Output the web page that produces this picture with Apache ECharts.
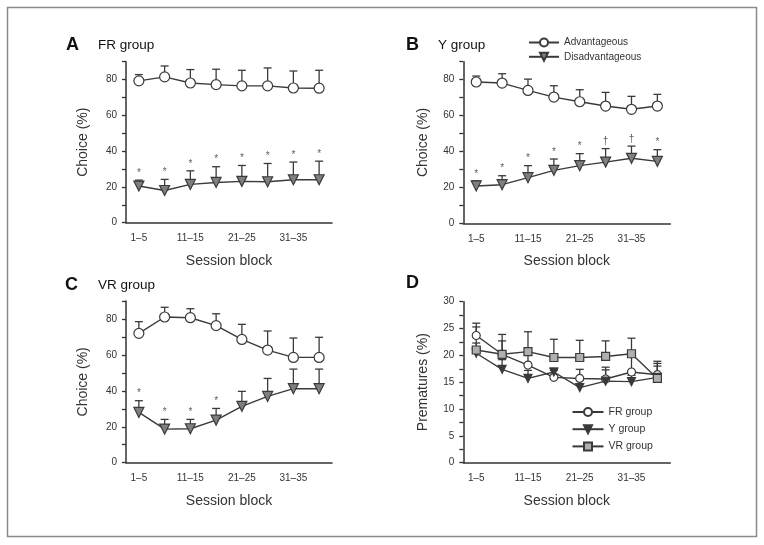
<!DOCTYPE html>
<html>
<head>
<meta charset="utf-8">
<script src="https://cdn.jsdelivr.net/npm/echarts@6/dist/echarts.min.js"></script>
<style>
  html, body { margin: 0; padding: 0; background: #fff; }
  #chart { width: 764px; height: 545px; }
</style>
</head>
<body>
<div id="chart"></div>
<script>
const blocks = ['1–5', '6–10', '11–15', '16–20', '21–25', '26–30', '31–35', '36–40']

// A: FR group (mean and top of the SEM bar)
const frAdv = [79.3, 81.5, 78.1, 77.2, 76.5, 76.5, 75.3, 75.2]
const frAdvTop = [82.8, 87.6, 85.6, 85.8, 85.2, 86.5, 84.8, 85.2]
const frDis = [20.5, 18.0, 21.4, 22.5, 23.1, 22.9, 24.0, 24.0]
const frDisTop = [23.8, 24.2, 29.0, 31.3, 32.0, 33.1, 33.9, 34.4]
const frMarks = ['*', '*', '*', '*', '*', '*', '*', '*']

// B: Y group
const yAdv = [78.7, 78.1, 74.0, 70.3, 67.7, 65.3, 63.5, 65.3]
const yAdvTop = [82.0, 83.3, 80.3, 76.6, 74.4, 72.9, 70.7, 71.8]
const yDis = [20.8, 21.5, 25.4, 29.5, 32.1, 34.1, 36.2, 34.5]
const yDisTop = [23.6, 26.5, 32.1, 35.8, 38.8, 41.6, 43.0, 41.0]
const yMarks = ['*', '*', '*', '*', '*', '†', '†', '*']

// C: VR group
const vrAdv = [72.0, 81.1, 80.7, 76.3, 68.6, 62.7, 58.6, 58.6]
const vrAdvTop = [78.5, 86.5, 85.7, 82.9, 77.0, 73.3, 69.4, 69.8]
const vrDis = [28.0, 18.7, 18.9, 23.7, 31.4, 36.9, 41.2, 41.2]
const vrDisTop = [34.5, 24.1, 24.1, 30.2, 39.7, 46.9, 52.1, 52.1]
const vrMarks = ['*', '*', '*', '*', '', '', '', '']

// D: premature responses
const frPrem = [23.7, 20.2, 18.2, 15.9, 15.7, 15.6, 16.9, 16.4]
const frPremTop = [26.0, 22.7, 20.3, 17.2, 17.4, 17.8, 20.2, 18.9]
const yPrem = [20.4, 17.4, 15.7, 16.9, 14.0, 15.2, 15.1, 15.9]
const yPremTop = [22.3, 19.2, 17.2, 17.6, 15.6, 17.3, 16.3, 18.5]
const vrPrem = [21.0, 20.2, 20.7, 19.6, 19.6, 19.8, 20.3, 15.7]
const vrPremTop = [25.3, 23.9, 24.4, 23.0, 22.8, 22.7, 23.2, 18.0]

const FONT = '"Liberation Sans", Arial, Helvetica, sans-serif'
const INK = '#333'
const LINE = '#3a3a3a'

const grids = [
  { left: 126, top: 61.7, width: 206, height: 161 },
  { left: 463.3, top: 61.7, width: 207, height: 161.6 },
  { left: 126, top: 301, width: 206, height: 161.7 },
  { left: 463.3, top: 301.7, width: 207, height: 161 }
]

function xAxisFor(i) {
  return {
    type: 'category',
    gridIndex: i,
    data: blocks,
    boundaryGap: true,
    name: 'Session block',
    nameLocation: 'middle',
    nameGap: 31,
    nameTextStyle: { fontFamily: FONT, fontSize: 14, color: INK },
    axisLine: { lineStyle: { color: INK, width: 1.5 } },
    axisTick: { alignWithLabel: true, interval: 0, length: 5, lineStyle: { color: INK, width: 1.3 } },
    axisLabel: { interval: 1, margin: 11, fontFamily: FONT, fontSize: 10, color: INK },
    splitLine: { show: false }
  }
}

function yAxisFor(i, name, max, step, labelStep, gap) {
  return {
    type: 'value',
    gridIndex: i,
    min: 0,
    max: max,
    interval: step,
    name: name,
    nameLocation: 'middle',
    nameGap: gap,
    nameTextStyle: { fontFamily: FONT, fontSize: 14, color: INK },
    axisLine: { show: true, lineStyle: { color: INK, width: 1.5 } },
    axisTick: { show: true, length: 4, lineStyle: { color: INK, width: 1.3 } },
    axisLabel: {
      margin: 9,
      fontFamily: FONT,
      fontSize: 10,
      color: INK,
      formatter: (v) => (v % labelStep === 0 ? String(v) : '')
    },
    splitLine: { show: false }
  }
}

function errorBars(i, mean, top) {
  return {
    type: 'custom',
    xAxisIndex: i,
    yAxisIndex: i,
    z: 1,
    silent: true,
    encode: { x: 0, y: [1, 2] },
    data: mean.map((m, k) => [k, m, top[k]]),
    renderItem(params, api) {
      const p0 = api.coord([api.value(0), api.value(1)])
      const p1 = api.coord([api.value(0), api.value(2)])
      const half = 4
      const style = { stroke: LINE, lineWidth: 1.3 }
      return {
        type: 'group',
        children: [
          { type: 'line', shape: { x1: p0[0], y1: p0[1], x2: p1[0], y2: p1[1] }, style },
          { type: 'line', shape: { x1: p1[0] - half, y1: p1[1], x2: p1[0] + half, y2: p1[1] }, style }
        ]
      }
    }
  }
}

function marks(i, top, signs) {
  return {
    type: 'scatter',
    xAxisIndex: i,
    yAxisIndex: i,
    symbolSize: 0,
    silent: true,
    z: 3,
    data: signs.map((s, k) => [k, top[k], s]).filter((d) => d[2] !== ''),
    label: {
      show: true,
      position: 'top',
      distance: 2,
      fontFamily: FONT,
      fontSize: 10,
      color: INK,
      formatter: (p) => p.value[2]
    }
  }
}

function lineSeries(i, name, data, symbol, fill, size) {
  return {
    type: 'line',
    name: name,
    xAxisIndex: i,
    yAxisIndex: i,
    z: 2,
    data: data,
    symbol: symbol,
    symbolSize: size,
    symbolRotate: symbol === 'triangle' ? 180 : 0,
    showAllSymbol: true,
    lineStyle: { color: LINE, width: 1.4 },
    itemStyle: { color: fill, borderColor: LINE, borderWidth: 1.2 }
  }
}

function choicePanel(i, adv, advTop, dis, disTop, signs) {
  return [
    errorBars(i, adv, advTop),
    errorBars(i, dis, disTop),
    lineSeries(i, 'Advantageous', adv, 'circle', '#fff', 10),
    lineSeries(i, 'Disadvantageous', dis, 'triangle', '#7f7f7f', 10),
    marks(i, disTop, signs)
  ]
}

function label(text, x, y, size, bold) {
  return {
    type: 'text',
    x: x,
    y: y,
    style: {
      text: text,
      fill: '#111',
      font: (bold ? 'bold ' : '') + size + 'px ' + FONT,
      verticalAlign: 'middle'
    }
  }
}

const option = {
  animation: false,
  backgroundColor: '#fff',
  graphic: [
    { type: 'rect', shape: { x: 7.5, y: 7.5, width: 749, height: 529 }, style: { fill: 'none', stroke: '#8a8a8a', lineWidth: 1.5 } },
    label('A', 66, 45, 18, true),
    label('FR group', 98, 45.5, 13.5, false),
    label('B', 406, 45, 18, true),
    label('Y group', 438, 45.5, 13.5, false),
    label('C', 65, 285, 18, true),
    label('VR group', 98, 285.5, 13.5, false),
    label('D', 406, 283.5, 18, true)
  ],
  legend: [
    {
      data: ['Advantageous', 'Disadvantageous'],
      orient: 'vertical',
      left: 528,
      top: 37.5,
      padding: 0,
      itemWidth: 30,
      itemHeight: 10,
      itemGap: 4.3,
      textStyle: { fontFamily: FONT, fontSize: 10, color: INK }
    },
    {
      data: ['FR group', 'Y group', 'VR group'],
      orient: 'vertical',
      left: 571.5,
      top: 406.5,
      padding: 0,
      itemWidth: 31,
      itemHeight: 10,
      itemGap: 6.2,
      textStyle: { fontFamily: FONT, fontSize: 10.5, color: INK }
    }
  ],
  grid: grids,
  xAxis: [xAxisFor(0), xAxisFor(1), xAxisFor(2), xAxisFor(3)],
  yAxis: [
    yAxisFor(0, 'Choice (%)', 90, 10, 20, 35.5),
    yAxisFor(1, 'Choice (%)', 90, 10, 20, 33),
    yAxisFor(2, 'Choice (%)', 90, 10, 20, 35.5),
    yAxisFor(3, 'Prematures (%)', 30, 2.5, 5, 33)
  ],
  series: [
    ...choicePanel(0, frAdv, frAdvTop, frDis, frDisTop, frMarks),
    ...choicePanel(1, yAdv, yAdvTop, yDis, yDisTop, yMarks),
    ...choicePanel(2, vrAdv, vrAdvTop, vrDis, vrDisTop, vrMarks),
    errorBars(3, frPrem, frPremTop),
    errorBars(3, yPrem, yPremTop),
    errorBars(3, vrPrem, vrPremTop),
    lineSeries(3, 'FR group', frPrem, 'circle', '#fff', 8),
    lineSeries(3, 'Y group', yPrem, 'triangle', '#3a3a3a', 8),
    lineSeries(3, 'VR group', vrPrem, 'rect', '#b0b0b0', 8)
  ]
}

const chart = echarts.init(document.getElementById('chart'))
chart.setOption(option)
</script>
</body>
</html>
